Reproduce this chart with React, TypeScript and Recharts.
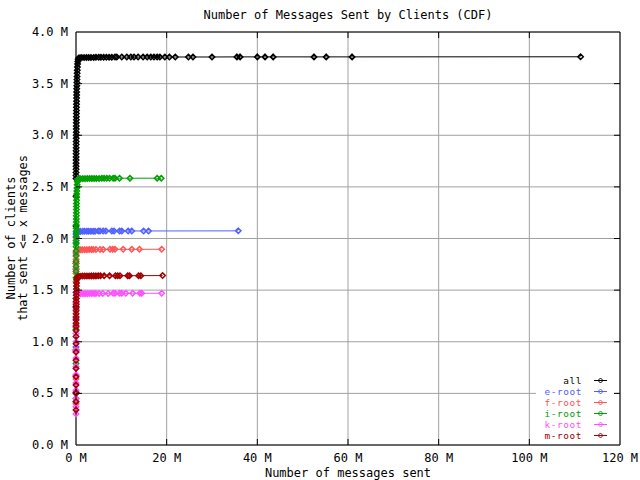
import React from 'react';
import { LineChart, Line, XAxis, YAxis, CartesianGrid, ReferenceLine } from 'recharts';

type Pt = [number, number];

// values in millions: [messages sent, clients with <= x messages]
const X_TICKS = [0, 20, 40, 60, 80, 100, 120];
const Y_TICKS = [0, 0.5, 1, 1.5, 2, 2.5, 3, 3.5, 4];

const ALL_PTS: Pt[] = [
  [0.0, 0.51], [0.0, 0.92], [0.0, 1.34], [0.0, 1.76], [0.01, 2.12], [0.01, 2.41], [0.01, 2.58],
  [0.01, 2.61], [0.01, 2.64], [0.02, 2.67], [0.02, 2.7], [0.02, 2.73], [0.02, 2.76], [0.03, 2.79],
  [0.03, 2.82], [0.03, 2.85], [0.04, 2.88], [0.04, 2.91], [0.04, 2.94], [0.05, 2.97], [0.05, 3.0],
  [0.06, 3.03], [0.06, 3.06], [0.07, 3.09], [0.07, 3.12], [0.08, 3.15], [0.08, 3.18], [0.09, 3.21],
  [0.1, 3.24], [0.1, 3.27], [0.11, 3.3], [0.12, 3.33], [0.13, 3.36], [0.14, 3.39], [0.15, 3.42],
  [0.16, 3.45], [0.18, 3.48], [0.19, 3.51], [0.21, 3.54], [0.23, 3.57], [0.25, 3.6], [0.28, 3.63],
  [0.31, 3.66], [0.35, 3.69], [0.4, 3.715], [0.48, 3.735], [0.6, 3.748],
  [0.9, 3.751], [1.3, 3.752], [1.8, 3.752], [2.3, 3.753], [2.8, 3.753], [3.3, 3.754], [3.9, 3.754],
  [4.4, 3.755], [5.0, 3.755], [5.5, 3.755], [6.1, 3.756], [6.7, 3.756], [7.3, 3.756], [7.9, 3.756],
  [8.6, 3.757], [9.0, 3.757], [10.1, 3.757], [11.2, 3.757], [12.1, 3.757], [12.8, 3.757], [13.7, 3.757],
  [14.8, 3.758], [15.7, 3.758], [16.5, 3.758], [17.2, 3.758], [17.9, 3.758], [18.5, 3.758], [19.6, 3.758],
  [20.6, 3.758], [21.9, 3.758], [24.8, 3.758], [25.8, 3.758], [30.0, 3.758], [35.5, 3.759], [36.2, 3.759],
  [40.0, 3.759], [41.7, 3.759], [43.5, 3.759], [52.5, 3.759], [55.2, 3.759], [60.9, 3.759], [111.3, 3.76],
];

const E_ROOT_PTS: Pt[] = [
  [0.0, 0.42], [0.0, 0.67], [0.0, 0.95], [0.0, 1.22], [0.01, 1.48], [0.01, 1.7], [0.01, 1.86],
  [0.02, 1.96], [0.03, 2.02], [0.05, 2.05], [0.1, 2.063], [0.25, 2.068],
  [0.6, 2.069], [1.0, 2.069], [1.5, 2.07], [1.9, 2.07], [2.4, 2.07], [2.8, 2.071], [3.3, 2.071],
  [3.8, 2.071], [4.2, 2.071], [4.9, 2.072], [5.3, 2.072], [6.0, 2.072], [6.6, 2.072], [7.9, 2.072],
  [8.4, 2.072], [9.6, 2.073], [10.1, 2.073], [11.5, 2.073], [12.3, 2.073], [14.9, 2.073], [16.0, 2.073],
  [35.8, 2.074],
];

const F_ROOT_PTS: Pt[] = [
  [0.0, 0.4], [0.0, 0.64], [0.0, 0.9], [0.0, 1.14], [0.01, 1.38], [0.01, 1.58], [0.01, 1.66],
  [0.02, 1.71], [0.02, 1.755], [0.03, 1.8], [0.05, 1.84], [0.08, 1.87], [0.2, 1.888],
  [0.6, 1.89], [1.0, 1.891], [1.4, 1.891], [1.9, 1.892], [2.4, 1.892], [2.9, 1.893], [3.4, 1.893],
  [3.8, 1.893], [4.4, 1.894], [5.3, 1.894], [6.0, 1.894], [7.5, 1.895], [8.1, 1.895], [8.6, 1.895],
  [10.4, 1.895], [12.3, 1.895], [14.0, 1.895], [18.9, 1.896],
];

const I_ROOT_PTS: Pt[] = [
  [0.0, 0.45], [0.0, 0.79], [0.0, 1.12], [0.0, 1.42], [0.01, 1.62], [0.01, 1.68], [0.01, 1.73],
  [0.01, 1.78], [0.02, 1.83], [0.02, 1.88], [0.02, 1.92], [0.03, 1.95], [0.03, 1.98], [0.03, 2.01],
  [0.04, 2.04], [0.04, 2.07], [0.05, 2.1], [0.05, 2.13], [0.06, 2.16], [0.06, 2.19], [0.07, 2.22],
  [0.08, 2.25], [0.09, 2.28], [0.1, 2.31], [0.11, 2.34], [0.12, 2.37], [0.14, 2.4], [0.16, 2.43],
  [0.18, 2.46], [0.21, 2.49], [0.25, 2.52], [0.3, 2.55], [0.4, 2.57], [0.55, 2.578],
  [1.0, 2.579], [1.5, 2.58], [2.0, 2.58], [2.5, 2.581], [3.0, 2.581], [3.5, 2.582], [4.0, 2.582],
  [4.5, 2.582], [5.1, 2.582], [5.7, 2.583], [6.2, 2.583], [6.8, 2.583], [7.4, 2.583], [8.2, 2.583],
  [8.6, 2.583], [9.6, 2.584], [11.9, 2.584], [17.9, 2.584], [18.8, 2.584],
];

const K_ROOT_PTS: Pt[] = [
  [0.0, 0.3], [0.0, 0.37], [0.0, 0.45], [0.0, 0.53], [0.0, 0.6], [0.0, 0.68], [0.0, 0.76],
  [0.01, 0.84], [0.01, 0.92], [0.01, 1.0], [0.01, 1.08], [0.01, 1.16], [0.02, 1.24], [0.03, 1.31],
  [0.04, 1.37], [0.06, 1.42], [0.1, 1.45], [0.2, 1.462],
  [0.6, 1.464], [1.0, 1.465], [1.5, 1.465], [2.0, 1.466], [2.5, 1.466], [3.0, 1.467], [3.5, 1.467],
  [4.0, 1.467], [4.4, 1.468], [5.1, 1.468], [5.9, 1.468], [7.1, 1.468], [8.2, 1.469], [8.6, 1.469],
  [9.6, 1.469], [10.1, 1.469], [11.0, 1.469], [12.5, 1.469], [14.1, 1.469], [14.5, 1.469], [18.9, 1.47],
];

const M_ROOT_PTS: Pt[] = [
  [0.0, 0.34], [0.0, 0.42], [0.0, 0.5], [0.0, 0.58], [0.0, 0.66], [0.0, 0.74], [0.0, 0.82],
  [0.01, 0.9], [0.01, 0.98], [0.01, 1.05], [0.01, 1.11], [0.01, 1.15], [0.01, 1.18], [0.02, 1.21],
  [0.02, 1.24], [0.02, 1.27], [0.03, 1.3], [0.03, 1.33], [0.04, 1.36], [0.04, 1.39], [0.05, 1.42],
  [0.06, 1.45], [0.07, 1.48], [0.08, 1.51], [0.1, 1.54], [0.12, 1.57], [0.16, 1.6], [0.25, 1.62],
  [0.45, 1.633],
  [0.9, 1.635], [1.4, 1.636], [1.9, 1.636], [2.4, 1.637], [2.9, 1.637], [3.4, 1.638], [3.9, 1.638],
  [4.4, 1.638], [4.9, 1.639], [5.4, 1.639], [6.2, 1.639], [7.4, 1.639], [8.7, 1.64], [9.2, 1.64],
  [9.7, 1.64], [11.4, 1.64], [11.8, 1.64], [13.8, 1.64], [14.3, 1.64], [19.1, 1.641],
];

const SERIES = [
  { name: 'all', color: '#000000', points: ALL_PTS },
  { name: 'e-root', color: '#5060ff', points: E_ROOT_PTS },
  { name: 'f-root', color: '#ff5555', points: F_ROOT_PTS },
  { name: 'i-root', color: '#00a000', points: I_ROOT_PTS },
  { name: 'k-root', color: '#ff50ff', points: K_ROOT_PTS },
  { name: 'm-root', color: '#a00000', points: M_ROOT_PTS },
];

const FONT = '"DejaVu Sans Mono", "Liberation Mono", monospace';
const PLOT_L = 76;
const PLOT_R = 620;
const PLOT_T = 32;
const PLOT_B = 445;

const makeDot = (color: string) => (props: any) => {
  const { cx, cy, index } = props;
  if (cx == null || cy == null) return <g key={index} />;
  const r = 2.7;
  return (
    <path
      key={index}
      d={`M${cx},${cy - r}L${cx + r},${cy}L${cx},${cy + r}L${cx - r},${cy}Z`}
      fill="none"
      stroke={color}
      strokeWidth={1.5}
    />
  );
};

const XTick = (props: any) => {
  const { x, y, payload } = props;
  const v = payload.value;
  return (
    <g>
      <text x={x} y={y} dy="0.71em" textAnchor="middle" fontSize={12} fontFamily={FONT} fill="#000">
        {`${v} M`}
      </text>
      {v > 0 && v < 120 && (
        <>
          <line x1={x} x2={x} y1={PLOT_B - 6} y2={PLOT_B} stroke="#000" />
          <line x1={x} x2={x} y1={PLOT_T} y2={PLOT_T + 6} stroke="#000" />
        </>
      )}
    </g>
  );
};

const YTick = (props: any) => {
  const { x, y, payload } = props;
  const v = payload.value;
  return (
    <g>
      <text x={x} y={y} dy={4} textAnchor="end" fontSize={12} fontFamily={FONT} fill="#000">
        {`${v.toFixed(1)} M`}
      </text>
      {v > 0 && v < 4 && (
        <>
          <line x1={PLOT_L} x2={PLOT_L + 6} y1={y} y2={y} stroke="#000" />
          <line x1={PLOT_R - 6} x2={PLOT_R} y1={y} y2={y} stroke="#000" />
        </>
      )}
    </g>
  );
};

export default function App() {
  return (
    <div style={{ position: 'absolute', left: 0, top: 0, width: 640, height: 480, background: '#fff', fontFamily: FONT }}>
      <LineChart width={640} height={480} margin={{ top: PLOT_T, right: 640 - PLOT_R, bottom: 0, left: 0 }}>
        <CartesianGrid stroke="#a0a0a0" />
        <XAxis
          type="number"
          dataKey="x"
          domain={[0, 120]}
          ticks={X_TICKS}
          interval={0}
          height={480 - PLOT_B}
          tickSize={0}
          tickMargin={8}
          tickLine={false}
          tick={XTick}
          axisLine={{ stroke: '#000' }}
        />
        <YAxis
          type="number"
          domain={[0, 4]}
          ticks={Y_TICKS}
          interval={0}
          width={PLOT_L}
          tickSize={0}
          tickMargin={8}
          tickLine={false}
          tick={YTick}
          axisLine={{ stroke: '#000' }}
        />
        <ReferenceLine y={4} stroke="#000" />
        <ReferenceLine x={120} stroke="#000" />
        {SERIES.map((s) => (
          <Line
            key={s.name}
            data={s.points.map(([x, y]) => ({ x, y }))}
            dataKey="y"
            type="linear"
            stroke={s.color}
            strokeWidth={1}
            dot={makeDot(s.color)}
            activeDot={false}
            isAnimationActive={false}
          />
        ))}
      </LineChart>

      <div style={{ position: 'absolute', left: PLOT_L, width: PLOT_R - PLOT_L, top: 8, textAlign: 'center', fontSize: 12, lineHeight: '14px' }}>
        Number of Messages Sent by Clients (CDF)
      </div>
      <div style={{ position: 'absolute', left: PLOT_L, width: PLOT_R - PLOT_L, top: 466, textAlign: 'center', fontSize: 12, lineHeight: '14px' }}>
        Number of messages sent
      </div>
      <div
        style={{
          position: 'absolute',
          left: 19 - 100,
          top: 238 - 14,
          width: 200,
          height: 28,
          transform: 'rotate(-90deg)',
          textAlign: 'center',
          fontSize: 12,
          lineHeight: '12px',
          whiteSpace: 'nowrap',
        }}
      >
        <div>Number of clients</div>
        <div>that sent &lt;= x messages</div>
      </div>

      <div style={{ position: 'absolute', left: 536, top: 375, width: 78, height: 67, background: '#fff', fontSize: 9.4 }}>
        {SERIES.map((s) => (
          <div key={s.name} style={{ display: 'flex', height: 11, lineHeight: '11px', alignItems: 'center', whiteSpace: 'nowrap' }}>
            <span style={{ width: 46, textAlign: 'right', color: s.color, letterSpacing: 0.6 }}>{s.name}</span>
            <svg width={30} height={11} style={{ flexShrink: 0 }}>
              <line x1={12} x2={25} y1={5.5} y2={5.5} stroke={s.color} />
              <path d="M18.5,3L21,5.5L18.5,8L16,5.5Z" fill="none" stroke={s.color} />
            </svg>
          </div>
        ))}
      </div>
    </div>
  );
}
